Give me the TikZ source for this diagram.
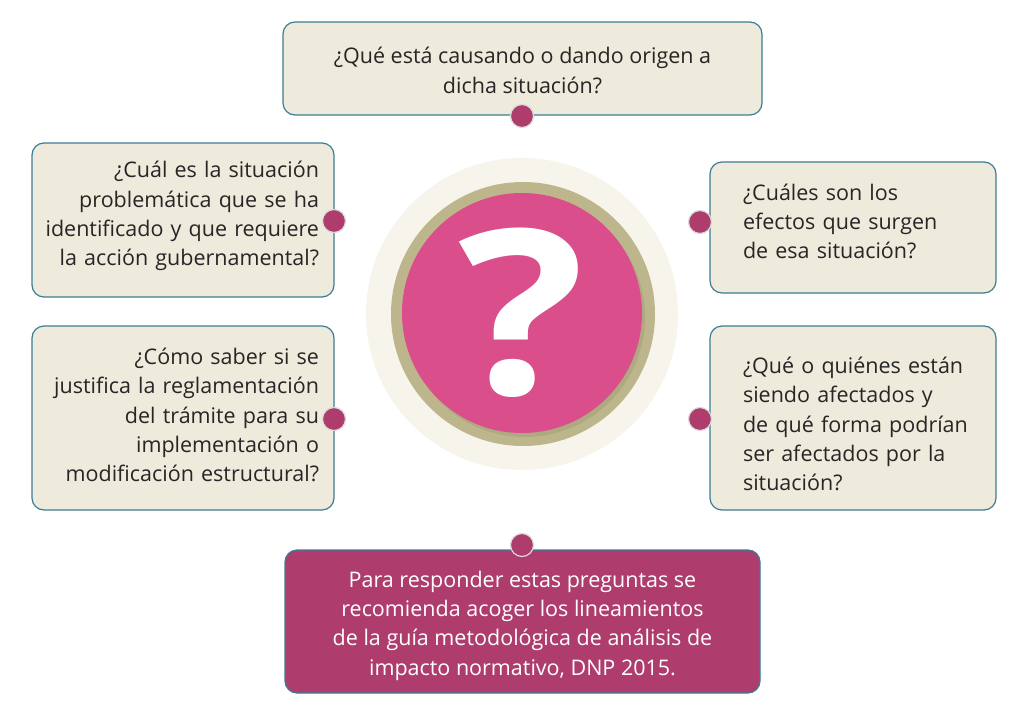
\documentclass[tikz,border=0pt]{standalone}
\usepackage{fontspec}
\setmainfont{Open Sans}
\usetikzlibrary{backgrounds}
\definecolor{boxfill}{HTML}{EEEADC}
\definecolor{boxline}{HTML}{3C7D96}
\definecolor{plum}{HTML}{AE3D6E}
\definecolor{cream}{HTML}{F6F4EB}
\definecolor{olive}{HTML}{BDB68C}
\definecolor{rose}{HTML}{DA4E8C}
\definecolor{wire}{HTML}{9C9C9C}
\begin{document}
\begin{tikzpicture}[x=1pt,y=-1pt,
  qbox/.style={draw=boxline,line width=1.2pt,fill=boxfill,rounded corners=12pt,inner sep=0pt},
  qtext/.style={font=\fontsize{21.5}{29.3}\selectfont,text=black!85,inner sep=0pt},
  ltext/.style={qtext,align=right,text width=274pt},
  rtext/.style={qtext,align=left,text width=226pt},
  dot/.style={circle,fill=plum,draw=white!85!black,line width=1.2pt,minimum size=23pt,inner sep=0pt},
  conn/.style={draw=wire,line width=1.2pt}]
\useasboundingbox[fill=white] (0,0) rectangle (1024,720);
% circle in the middle
\node[circle,fill=cream,minimum size=312pt,inner sep=0pt] (halo) at (522,314) {};
\node[circle,fill=olive,minimum size=264pt,inner sep=0pt] (ring) at (523,314) {};
\fill[olive!80!black,opacity=0.35] (525,317) circle (120pt);
\node[circle,fill=rose,minimum size=240pt,inner sep=0pt,text=white,
  font=\bfseries\fontsize{230}{230}\selectfont] (quest) at (522,313) {\scalebox{1.15}[1]{?}};
% boxes
\node[qbox,minimum width=479pt,minimum height=93pt] (causa) at (522.5,68.5) {};
\node[qbox,minimum width=302pt,minimum height=154pt] (situ) at (183,220) {};
\node[qbox,minimum width=286pt,minimum height=131pt] (efec) at (853,227.5) {};
\node[qbox,minimum width=302pt,minimum height=184pt] (just) at (183,418) {};
\node[qbox,minimum width=286pt,minimum height=184pt] (afec) at (853,418) {};
\node[qbox,fill=plum,minimum width=475pt,minimum height=143pt] (guia) at (522.5,621.5) {};
% the questions
\node[qtext,align=center] (causaT) at ([yshift=-2]causa.center)
  {¿Qué está causando o dando origen a\\dicha situación?};
\node[ltext] (situT) at ([xshift=-1,yshift=4]situ.center)
  {¿Cuál es la situación\\problemática que se ha\\identificado y que requiere\\la acción gubernamental?};
\node[rtext] (efecT) at ([xshift=3,yshift=6]efec.center)
  {¿Cuáles son los\\efectos que surgen\\de esa situación?};
\node[ltext] (justT) at ([xshift=-1,yshift=3]just.center)
  {¿Cómo saber si se\\justifica la reglamentación\\del trámite para su\\implementación o\\modificación estructural?};
\node[rtext] (afecT) at ([xshift=3,yshift=-6]afec.center)
  {¿Qué o quiénes están\\siendo afectados y\\de qué forma podrían\\ser afectados por la\\situación?};
\node[qtext,text=white,align=center] (guiaT) at ([yshift=-4]guia.center)
  {Para responder estas preguntas se\\recomienda acoger los lineamientos\\de la guía metodológica de análisis de\\impacto normativo, DNP 2015.};
% dots
\node[dot] (dT) at (522,116) {};
\node[dot] (dLT) at (334,221) {};
\node[dot] (dRT) at (700,222) {};
\node[dot] (dLB) at (334,419) {};
\node[dot] (dRB) at (700,419) {};
\node[dot] (dB) at (522,545) {};
\begin{pgfonlayer}{background}
\draw[conn] (dT) -- (halo);
\draw[conn] (dB) -- (halo);
\draw[conn] (dLT) -- (dLT -| halo.center);
\draw[conn] (dRT) -- (dRT -| halo.center);
\draw[conn] (dLB) -- (dLB -| halo.center);
\draw[conn] (dRB) -- (dRB -| halo.center);
\end{pgfonlayer}
\end{tikzpicture}
\end{document}
